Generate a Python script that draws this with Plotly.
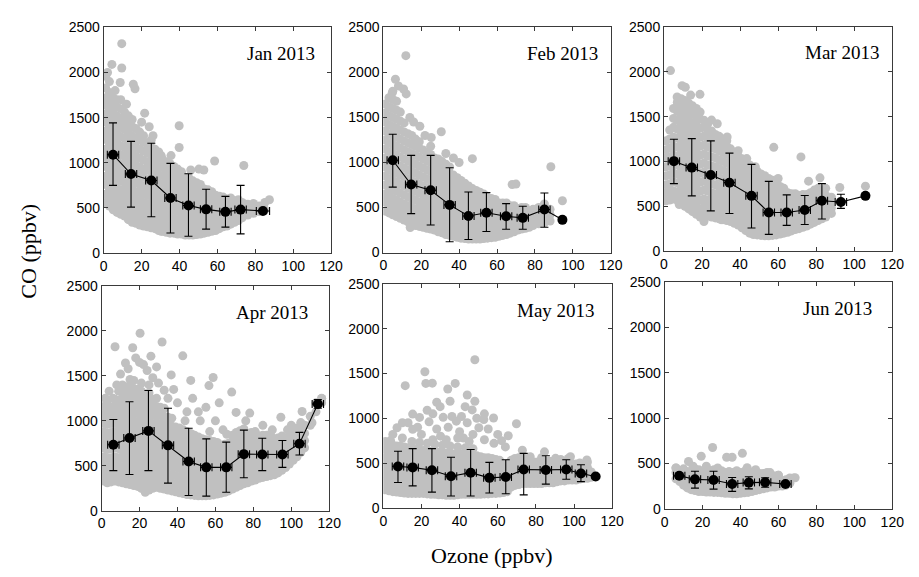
import plotly.graph_objects as go

# ---------------- data ----------------
titles = ["Jan 2013", "Feb 2013", "Mar 2013", "Apr 2013", "May 2013", "Jun 2013"]
x_ticks = [0, 20, 40, 60, 80, 100, 120]
y_ticks = [0, 500, 1000, 1500, 2000, 2500]

# gray scatter: (ozone, [CO values...]) columns + isolated points
jan_cols = [
    (1, [560, 650, 760, 850, 960, 1060, 1150, 1260, 1350, 1450, 1540, 1640, 1720, 1830, 1960]),
    (3, [520, 610, 700, 810, 900, 1010, 1100, 1200, 1310, 1400, 1500, 1590, 1680, 1780, 1900]),
    (5, [480, 570, 660, 760, 850, 950, 1050, 1150, 1250, 1350, 1450, 1550, 1650, 1720]),
    (7, [450, 540, 630, 720, 820, 920, 1020, 1120, 1220, 1320, 1420, 1520, 1620, 1700]),
    (9, [430, 520, 610, 700, 800, 890, 990, 1090, 1190, 1290, 1390, 1490, 1600, 1700]),
    (11, [410, 500, 590, 680, 780, 870, 970, 1070, 1170, 1270, 1370, 1460, 1560]),
    (13, [370, 460, 560, 650, 740, 840, 940, 1040, 1140, 1240, 1340, 1440, 1520]),
    (15, [340, 430, 520, 620, 710, 810, 910, 1010, 1100, 1200, 1300, 1400, 1480]),
    (17, [330, 410, 500, 590, 680, 780, 870, 970, 1070, 1170, 1270, 1380]),
    (19, [310, 400, 490, 580, 670, 760, 850, 950, 1050, 1150, 1250, 1340]),
    (21, [300, 390, 480, 560, 650, 740, 840, 930, 1030, 1130, 1230, 1300]),
    (23, [290, 370, 460, 550, 640, 730, 820, 920, 1010, 1110, 1200]),
    (25, [280, 360, 450, 540, 630, 720, 810, 900, 990, 1080, 1170, 1250]),
    (27, [270, 350, 440, 520, 610, 700, 790, 880, 970, 1060, 1150]),
    (29, [250, 340, 420, 510, 600, 690, 780, 870, 960, 1050, 1120]),
    (31, [240, 320, 410, 500, 590, 680, 770, 860, 950, 1040]),
    (33, [230, 310, 400, 490, 580, 670, 760, 850, 940, 1010]),
    (35, [220, 300, 390, 480, 570, 660, 740, 830, 920, 990]),
    (37, [220, 300, 380, 470, 560, 640, 730, 820, 900, 960]),
    (39, [210, 290, 370, 460, 540, 630, 720, 800, 880, 930]),
    (41, [210, 290, 370, 450, 530, 620, 700, 780, 860, 900]),
    (43, [200, 280, 360, 440, 520, 600, 680, 760, 840]),
    (45, [200, 280, 360, 440, 520, 600, 680, 760, 830]),
    (47, [200, 280, 350, 430, 510, 590, 670, 750, 800]),
    (49, [205, 280, 350, 430, 510, 580, 660, 740, 780]),
    (51, [210, 290, 360, 430, 500, 580, 650, 720, 760]),
    (53, [220, 290, 360, 430, 500, 570, 640, 710]),
    (55, [230, 300, 370, 440, 510, 570, 640, 700]),
    (57, [240, 310, 380, 440, 510, 570, 640, 680]),
    (59, [250, 320, 390, 450, 510, 580, 640]),
    (61, [270, 340, 400, 460, 520, 580, 630]),
    (63, [290, 350, 410, 470, 530, 590, 620]),
    (65, [300, 360, 420, 480, 540, 600]),
    (67, [320, 380, 440, 500, 560, 610]),
    (69, [340, 400, 460, 520, 580]),
    (71, [360, 420, 480, 540, 590]),
    (73, [390, 450, 510, 560]),
    (76, [420, 480, 540]),
    (79, [440, 500, 550]),
    (82, [460, 520]),
    (85, [480, 560]),
]
jan_extra = [(9.5, 2320), (4.3, 2090), (9.5, 2050), (2, 2000), (8.7, 1890), (15.6, 1870),
             (16.5, 1820), (21.6, 1550), (20, 1450), (24, 1400), (39.8, 1410), (39.8, 1170),
             (30.3, 1080), (35.5, 1080), (45.9, 920), (50.2, 930), (52.8, 920), (58.5, 1020),
             (73.9, 970), (87.4, 590), (30.3, 240), (26, 1300), (12, 1650), (6, 1800)]

feb_cols = [
    (1, [460, 560, 650, 750, 850, 950, 1050, 1150, 1250, 1350, 1450, 1550, 1650]),
    (3, [440, 530, 630, 720, 820, 920, 1020, 1120, 1220, 1320, 1420, 1520, 1620, 1720]),
    (5, [420, 510, 600, 700, 800, 900, 1000, 1100, 1200, 1300, 1400, 1500, 1600, 1700, 1790]),
    (7, [400, 490, 580, 680, 780, 880, 980, 1080, 1180, 1280, 1380, 1480, 1580, 1680]),
    (9, [380, 470, 560, 660, 760, 860, 960, 1060, 1160, 1260, 1360, 1460, 1560]),
    (11, [360, 450, 540, 640, 740, 840, 940, 1040, 1140, 1240, 1340, 1440]),
    (13, [340, 430, 520, 620, 720, 820, 920, 1020, 1120, 1220, 1320]),
    (15, [320, 410, 500, 600, 700, 800, 900, 1000, 1100, 1200, 1300]),
    (17, [300, 390, 480, 580, 680, 780, 880, 980, 1080, 1180, 1260]),
    (19, [290, 380, 470, 560, 660, 760, 860, 960, 1060, 1160, 1230]),
    (21, [280, 370, 460, 550, 640, 740, 840, 940, 1040, 1140]),
    (23, [270, 360, 450, 540, 630, 720, 820, 920, 1020, 1110]),
    (25, [260, 350, 440, 530, 620, 710, 800, 900, 1000, 1090, 1180]),
    (27, [250, 330, 420, 510, 600, 690, 780, 870, 960, 1050]),
    (29, [230, 320, 410, 500, 590, 680, 770, 860, 950, 1040]),
    (31, [220, 300, 390, 480, 570, 660, 750, 840, 930, 1010]),
    (33, [200, 290, 370, 460, 550, 640, 730, 820, 910, 980]),
    (35, [190, 270, 360, 450, 540, 620, 710, 800, 880, 950]),
    (37, [180, 260, 340, 430, 520, 600, 690, 780, 860]),
    (39, [170, 250, 330, 420, 500, 580, 670, 750, 830]),
    (41, [160, 240, 320, 400, 480, 560, 640, 720, 800]),
    (43, [155, 230, 310, 390, 470, 550, 630, 700, 770]),
    (45, [150, 225, 300, 380, 460, 540, 610, 680, 740]),
    (47, [150, 220, 300, 370, 450, 520, 600, 660, 710]),
    (49, [150, 220, 290, 370, 440, 510, 580, 640, 690]),
    (51, [150, 220, 290, 360, 430, 500, 570, 630, 670]),
    (53, [155, 225, 290, 360, 430, 500, 560, 620, 650]),
    (55, [160, 230, 300, 360, 430, 490, 550, 610]),
    (57, [165, 235, 300, 370, 430, 490, 550, 600]),
    (59, [170, 240, 310, 370, 430, 490, 550, 590]),
    (61, [180, 250, 310, 370, 430, 490, 550]),
    (63, [190, 260, 320, 380, 440, 500, 550]),
    (65, [200, 270, 330, 390, 450, 510, 550]),
    (67, [215, 280, 340, 400, 460, 520]),
    (69, [230, 290, 350, 410, 470, 520]),
    (71, [250, 310, 370, 430, 490]),
    (73, [260, 320, 380, 440, 500]),
    (75, [270, 330, 390, 450, 500]),
    (77, [280, 340, 400, 460]),
    (79, [300, 360, 420, 480]),
    (82, [320, 380, 440, 500]),
    (85, [330, 400, 470, 540]),
    (88, [350, 420, 480]),
]
feb_extra = [(11.9, 2187), (6.4, 1924), (10.7, 1816), (12.1, 1762), (4.7, 1773), (8, 1850),
             (19.3, 1403), (30.6, 1342), (25.3, 1277), (22, 1300), (47, 1043), (40, 1000),
             (88.4, 953), (68, 755), (70, 760), (94.5, 575), (14.2, 277), (37, 1050),
             (33, 1100), (16, 1450), (14, 1500)]

mar_cols = [
    (1, [560, 650, 740, 840, 940, 1040, 1130, 1230]),
    (3, [570, 660, 750, 850, 950, 1050, 1150, 1250, 1350]),
    (5, [580, 670, 770, 870, 970, 1070, 1170, 1270, 1380, 1480, 1590]),
    (7, [570, 660, 760, 860, 960, 1060, 1160, 1260, 1360, 1460, 1560, 1660]),
    (9, [540, 630, 730, 830, 930, 1030, 1130, 1230, 1330, 1430, 1530, 1630, 1700]),
    (11, [500, 590, 690, 790, 890, 990, 1090, 1190, 1290, 1390, 1490, 1590, 1680]),
    (13, [470, 560, 660, 760, 860, 960, 1060, 1160, 1260, 1360, 1460, 1560, 1650]),
    (15, [440, 530, 630, 730, 830, 930, 1030, 1130, 1230, 1330, 1430, 1530, 1620]),
    (17, [410, 500, 600, 700, 800, 900, 1000, 1100, 1200, 1300, 1400, 1500, 1590]),
    (19, [380, 470, 570, 670, 770, 870, 970, 1070, 1170, 1270, 1370, 1470, 1550]),
    (21, [400, 490, 580, 680, 780, 880, 980, 1080, 1180, 1280, 1380, 1460]),
    (23, [390, 480, 570, 670, 760, 860, 960, 1060, 1160, 1260, 1350, 1420]),
    (25, [380, 470, 560, 650, 750, 850, 950, 1050, 1150, 1250, 1340]),
    (27, [370, 460, 550, 640, 740, 840, 940, 1040, 1140, 1230, 1300]),
    (29, [360, 450, 540, 630, 720, 820, 920, 1020, 1120, 1210, 1280]),
    (31, [350, 440, 530, 620, 710, 800, 900, 1000, 1100, 1190, 1250]),
    (33, [340, 430, 520, 610, 700, 790, 880, 980, 1080, 1170, 1230]),
    (35, [330, 420, 510, 600, 690, 780, 870, 960, 1050, 1140]),
    (37, [310, 400, 490, 580, 670, 760, 850, 940, 1030, 1100]),
    (39, [290, 380, 470, 560, 650, 740, 830, 920, 1010, 1060]),
    (41, [260, 350, 440, 530, 620, 710, 800, 890, 980, 1030]),
    (43, [230, 320, 410, 500, 590, 680, 770, 860, 950, 1000]),
    (45, [200, 290, 380, 470, 560, 650, 740, 830, 910, 960]),
    (47, [185, 270, 360, 450, 540, 630, 720, 800, 880, 920]),
    (49, [180, 260, 340, 430, 520, 600, 690, 770, 850, 890]),
    (51, [175, 250, 330, 410, 500, 580, 660, 740, 820, 860]),
    (53, [170, 245, 320, 400, 480, 560, 640, 720, 800, 840]),
    (55, [170, 240, 320, 390, 470, 550, 630, 700, 780, 810]),
    (57, [175, 245, 320, 390, 460, 540, 610, 690, 760, 790]),
    (59, [180, 250, 320, 390, 460, 530, 600, 670, 740, 770]),
    (61, [190, 260, 330, 400, 470, 540, 600, 660, 720]),
    (63, [200, 270, 340, 410, 470, 540, 600, 660, 700]),
    (65, [210, 280, 350, 410, 480, 540, 600, 650]),
    (67, [225, 290, 360, 420, 480, 540, 600, 640]),
    (69, [240, 300, 370, 430, 490, 550, 610, 640]),
    (71, [250, 320, 380, 440, 500, 560, 620]),
    (73, [265, 330, 390, 450, 510, 570, 630]),
    (75, [280, 340, 400, 460, 520, 580, 630]),
    (77, [300, 360, 420, 480, 540, 600, 650]),
    (79, [320, 380, 440, 500, 560, 620, 680]),
    (81, [340, 400, 460, 520, 580, 640, 700]),
    (83, [360, 420, 480, 540, 600, 660]),
    (85, [380, 440, 500, 560, 620]),
    (88, [420, 480, 540, 600]),
]
mar_extra = [(3.4, 2013), (9.5, 1845), (11.2, 1827), (18.9, 1748), (6.9, 1719), (14, 1740),
             (25, 1461), (28, 1420), (33.2, 1272), (43.5, 1032), (57.7, 1157), (72, 1050),
             (82, 817), (92.4, 709), (105.9, 724), (48, 940), (39, 1120), (8, 520), (11, 530),
             (21, 330), (30, 350), (35, 370), (60, 810), (76, 780), (85, 700)]

apr_cols = [
    (1, [330, 420, 510, 600, 700, 790, 880, 980, 1070, 1160]),
    (3, [310, 400, 490, 580, 680, 770, 860, 960, 1050, 1140, 1220]),
    (5, [320, 410, 500, 590, 690, 780, 870, 970, 1060, 1150]),
    (7, [330, 420, 510, 600, 700, 790, 880, 980, 1070, 1160, 1240]),
    (9, [320, 410, 500, 590, 690, 780, 870, 960, 1050, 1140, 1230, 1330]),
    (11, [310, 400, 490, 580, 670, 770, 860, 950, 1040, 1130, 1220, 1310, 1400]),
    (13, [300, 390, 480, 570, 660, 750, 850, 940, 1030, 1120, 1210, 1300, 1380]),
    (15, [290, 380, 470, 560, 650, 740, 830, 930, 1020, 1110, 1200, 1290, 1370, 1460]),
    (17, [280, 370, 460, 550, 640, 730, 820, 910, 1000, 1090, 1180, 1270, 1360, 1450]),
    (19, [270, 360, 450, 540, 630, 720, 810, 900, 990, 1080, 1170, 1260, 1350]),
    (21, [250, 340, 430, 520, 610, 700, 790, 880, 970, 1060, 1150, 1240, 1330, 1420]),
    (23, [220, 310, 400, 490, 580, 670, 760, 850, 940, 1030, 1120, 1210, 1300]),
    (25, [230, 320, 410, 500, 590, 680, 770, 860, 950, 1040, 1130, 1220, 1310, 1400]),
    (27, [250, 340, 430, 520, 610, 700, 790, 880, 970, 1060, 1150, 1240]),
    (29, [260, 350, 440, 530, 620, 710, 800, 890, 980, 1070, 1160, 1250]),
    (31, [250, 340, 430, 520, 610, 700, 790, 880, 970, 1060, 1150]),
    (33, [240, 330, 420, 510, 600, 690, 780, 870, 960, 1050, 1140]),
    (35, [230, 320, 410, 500, 590, 680, 770, 860, 950, 1040]),
    (37, [220, 310, 400, 490, 580, 670, 760, 850, 940, 1030]),
    (39, [210, 300, 390, 480, 570, 660, 750, 840, 930]),
    (41, [200, 290, 380, 470, 560, 650, 740, 830, 920]),
    (43, [190, 270, 360, 450, 540, 630, 720, 810, 900]),
    (45, [180, 260, 350, 440, 530, 620, 710, 800, 880]),
    (47, [175, 250, 340, 430, 520, 610, 700, 790, 860]),
    (49, [170, 250, 330, 420, 510, 600, 690, 770, 840]),
    (51, [165, 245, 330, 410, 500, 590, 680, 760, 820]),
    (53, [165, 240, 320, 400, 490, 580, 660, 740, 800]),
    (55, [165, 240, 320, 400, 480, 560, 640, 720, 790]),
    (57, [170, 245, 320, 400, 480, 560, 640, 710, 780]),
    (59, [175, 250, 330, 410, 490, 570, 650, 720, 770]),
    (61, [185, 260, 340, 420, 500, 580, 650, 720, 760]),
    (63, [195, 270, 350, 430, 510, 590, 660, 730]),
    (65, [205, 280, 360, 440, 520, 600, 670, 740]),
    (67, [220, 295, 370, 450, 530, 610, 680, 750]),
    (69, [240, 310, 390, 470, 550, 630, 700, 770, 840]),
    (71, [260, 330, 410, 490, 570, 650, 720, 800, 870]),
    (73, [280, 350, 430, 510, 590, 670, 740, 820, 890]),
    (75, [300, 370, 450, 530, 610, 690, 760, 840, 910]),
    (77, [310, 390, 470, 550, 630, 710, 780, 860]),
    (79, [330, 410, 490, 570, 650, 730, 800, 870]),
    (81, [340, 420, 500, 580, 660, 740, 810, 880]),
    (83, [360, 440, 520, 600, 680, 760, 830]),
    (85, [370, 450, 530, 610, 690, 770, 840]),
    (87, [380, 460, 540, 620, 700, 780, 840]),
    (89, [390, 470, 550, 630, 710, 790, 850]),
    (91, [400, 480, 560, 640, 720, 800]),
    (93, [420, 500, 580, 660, 740, 810]),
    (95, [450, 530, 610, 690, 770, 830]),
    (97, [480, 560, 640, 720, 800]),
    (99, [520, 600, 680, 760, 840]),
    (101, [560, 640, 720, 800, 880]),
    (103, [600, 680, 760, 840, 920]),
    (105, [650, 730, 810, 890, 980]),
    (107, [700, 780, 860, 950]),
    (110, [950, 1050]),
    (113, [1100, 1200]),
    (116, [1200, 1250]),
]
apr_extra = [(20.3, 1975), (31.9, 1878), (7.1, 1824), (16.4, 1813), (42.8, 1723), (12.6, 1644),
             (22.1, 1626), (36.7, 1511), (58.8, 1482), (68.6, 1320), (56.6, 1392), (70.9, 1094),
             (78.1, 1086), (94.5, 1040), (105.7, 1104), (110.9, 978), (116, 1248), (23, 205),
             (10, 1520), (14, 1580), (18, 1700), (24, 1560), (27, 1480), (30, 1420), (33, 1340),
             (26, 1720), (20, 1650), (8, 1400), (4, 1330), (40, 1200), (45, 1100), (48, 1250),
             (52, 1000), (55, 1150), (60, 1000), (64, 900), (62, 1200), (47, 1450), (38, 1350),
             (29, 1600), (35, 1250), (44, 1000), (51, 1100), (57, 880), (66, 850), (76, 1000),
             (85, 950), (90, 900), (98, 900), (100, 950), (2, 1250), (6, 1250)]

may_cols = [
    (1, [200, 290, 380, 470, 560, 650, 740]),
    (3, [190, 280, 370, 460, 550, 640, 720]),
    (5, [180, 270, 360, 450, 540, 630, 700]),
    (7, [175, 260, 350, 440, 530, 620, 690]),
    (9, [170, 255, 340, 430, 520, 610, 690]),
    (11, [165, 250, 335, 420, 510, 600, 680]),
    (13, [160, 245, 330, 415, 500, 590, 670]),
    (15, [160, 240, 325, 410, 495, 580, 660, 740]),
    (17, [160, 240, 320, 405, 490, 575, 660]),
    (19, [160, 240, 320, 400, 485, 570, 650, 730]),
    (21, [160, 240, 320, 400, 480, 560, 640]),
    (23, [155, 235, 315, 395, 475, 555, 640, 720]),
    (25, [150, 230, 310, 390, 470, 550, 630]),
    (27, [150, 230, 310, 390, 470, 550, 630, 710]),
    (29, [145, 225, 305, 385, 465, 545, 620]),
    (31, [145, 225, 305, 385, 465, 545, 620, 700]),
    (33, [140, 220, 300, 380, 460, 540, 610]),
    (35, [140, 220, 300, 380, 460, 540, 610, 690]),
    (37, [140, 220, 300, 380, 460, 530, 600]),
    (39, [145, 225, 300, 380, 455, 530, 600, 680]),
    (41, [150, 225, 300, 375, 450, 525, 600]),
    (43, [150, 225, 300, 375, 450, 525, 600, 670]),
    (45, [150, 225, 300, 375, 450, 520, 590]),
    (47, [150, 225, 300, 370, 445, 520, 590, 660]),
    (49, [150, 225, 300, 370, 440, 510, 580]),
    (51, [150, 225, 295, 365, 435, 505, 570]),
    (53, [155, 225, 295, 365, 435, 500, 560]),
    (55, [155, 225, 295, 360, 430, 495, 560]),
    (57, [160, 230, 295, 360, 425, 490, 550]),
    (59, [160, 230, 295, 360, 425, 490, 540]),
    (61, [165, 230, 295, 360, 425, 485, 530]),
    (63, [170, 235, 300, 360, 420, 480]),
    (65, [180, 245, 310, 370, 430, 490]),
    (67, [230, 290, 350, 410, 470, 530]),
    (69, [250, 310, 370, 430, 490, 550]),
    (71, [260, 320, 380, 440, 500, 560]),
    (73, [270, 330, 390, 450, 510, 570]),
    (75, [270, 330, 390, 450, 510]),
    (77, [270, 330, 390, 450, 510, 570]),
    (79, [270, 330, 390, 450, 510]),
    (81, [270, 330, 390, 450, 510]),
    (83, [270, 330, 390, 450, 510, 560]),
    (85, [280, 340, 400, 460, 520]),
    (87, [280, 340, 400, 460, 520]),
    (89, [280, 340, 400, 460, 520]),
    (91, [290, 350, 410, 470, 530]),
    (93, [300, 360, 420, 480, 540]),
    (95, [300, 360, 420, 480]),
    (97, [310, 370, 430, 490, 550]),
    (99, [310, 370, 430, 490]),
    (101, [310, 370, 430, 490]),
    (103, [320, 380, 440, 500]),
    (105, [330, 390, 450]),
    (107, [330, 390, 450, 510]),
    (109, [340, 400]),
]
may_extra = [(48, 1654), (21.8, 1520), (11.5, 1365), (22.3, 1390), (25.7, 1393), (33.8, 1328),
             (37.7, 1390), (29.8, 1130), (42.9, 1130), (46.6, 1094), (38.3, 968), (31.4, 1011),
             (52.7, 986), (57.8, 1004), (50.1, 895), (69.8, 939), (65.5, 805), (15.4, 1047),
             (7.2, 895), (15.4, 877), (3.8, 751), (72.9, 643), (84.5, 625), (90.3, 552),
             (98.1, 570), (106.7, 534), (5, 820), (10, 780), (13, 950), (18, 900), (20, 820),
             (24, 960), (26, 1050), (28, 880), (30, 800), (34, 900), (36, 1020), (40, 850),
             (42, 780), (44, 950), (47, 820), (49, 1000), (53, 760), (55, 880), (58, 720),
             (60, 820), (62, 750), (64, 680), (10, 950), (26, 760), (33, 760), (39, 780),
             (45, 740), (19, 1010), (23, 1090), (28, 1180), (35, 1190), (41, 1020), (44, 1260),
             (48, 1190), (53, 1050)]

jun_cols = [
    (6, [330, 400, 450]), (8, [300, 360, 420]), (10, [260, 320, 380, 440]),
    (12, [230, 290, 350, 410]), (14, [210, 270, 330, 390]), (16, [200, 260, 320, 380, 440]),
    (18, [190, 250, 310, 370, 430]), (20, [190, 250, 310, 370]), (22, [185, 245, 305, 365, 425]),
    (24, [185, 245, 305, 365, 420]), (26, [180, 240, 300, 360, 430]), (28, [180, 240, 300, 360, 410]),
    (30, [175, 235, 295, 355, 420]), (32, [170, 230, 290, 350, 400]), (34, [170, 230, 290, 350, 410]),
    (36, [165, 225, 285, 345, 400]), (38, [165, 225, 285, 345, 420]), (40, [170, 230, 290, 350, 400]),
    (42, [175, 235, 295, 355, 410]), (44, [180, 240, 300, 360, 420]), (46, [190, 250, 310, 370, 400]),
    (48, [200, 260, 320, 380]), (50, [210, 270, 330, 390]), (52, [220, 280, 340, 390]),
    (54, [230, 290, 350, 400]), (56, [240, 300, 360]), (58, [240, 300, 360]), (60, [250, 310, 370]),
    (62, [250, 310]), (64, [260, 320]), (66, [280, 340]), (68, [340]),
]
jun_extra = [(25.3, 676), (19.3, 579), (35.6, 568), (32.7, 568), (41, 611), (12.6, 521), (6, 450),
             (43.5, 453), (55.6, 399), (68.8, 342), (31, 399), (28, 450), (22, 470), (15, 470),
             (48, 430), (60, 370)]

# binned means (black): ozone, CO mean, CO upper / lower end of bar, ozone half-width
jan_mo3 = [4.9, 14.4, 25.1, 35.2, 44.7, 54.0, 64.2, 72.2, 84.0]
jan_mco = [1090, 875, 803, 610, 527, 484, 456, 481, 466]
jan_hi = [1442, 1237, 1216, 994, 879, 707, 628, 750, 466]
jan_lo = [750, 509, 402, 222, 186, 265, 287, 212, 466]
jan_xe = [3, 3, 3, 3, 3, 3, 3, 3, 3.5]

feb_mo3 = [5, 14.7, 25, 35, 44.9, 54.4, 64.8, 73.6, 85, 94.5]
feb_mco = [1025, 755, 691, 529, 406, 442, 403, 385, 478, 363]
feb_hi = [1313, 1079, 1079, 942, 673, 665, 543, 514, 662, 363]
feb_lo = [727, 432, 306, 119, 144, 234, 259, 259, 281, 363]
feb_xe = [3, 3, 3, 3, 3, 3, 3, 3, 3, 0]

mar_mo3 = [5.2, 14.6, 24.6, 34.4, 46, 55.1, 64.5, 74, 83, 93, 105.9]
mar_mco = [1003, 931, 849, 763, 616, 430, 430, 458, 562, 548, 616]
mar_hi = [1247, 1254, 1229, 1093, 967, 777, 627, 620, 752, 634, 616]
mar_lo = [752, 616, 448, 419, 258, 186, 287, 297, 358, 476, 616]
mar_xe = [3, 3, 3, 3, 3, 3, 3, 3, 3, 3, 0]

apr_mo3 = [6.2, 14.7, 24.7, 35, 45.9, 55.2, 65.7, 75, 84.7, 95.3, 104.3, 114]
apr_mco = [734, 809, 888, 727, 547, 482, 482, 629, 626, 626, 745, 1187]
apr_hi = [1014, 1212, 1338, 1140, 917, 799, 763, 896, 806, 781, 871, 1237]
apr_lo = [446, 403, 446, 306, 169, 162, 205, 367, 446, 482, 619, 1140]
apr_xe = [3, 3, 3, 3, 3, 3, 3, 3, 3, 3, 3, 3]

may_mo3 = [7.7, 15.4, 25.5, 35.5, 45.8, 55.6, 64.2, 73.6, 85.2, 95.9, 103.6, 111.3]
may_mco = [462, 451, 419, 352, 392, 334, 344, 427, 423, 427, 383, 350]
may_hi = [632, 661, 661, 565, 651, 507, 536, 608, 582, 536, 480, 350]
may_lo = [282, 245, 175, 132, 132, 164, 157, 144, 264, 318, 292, 350]
may_xe = [3, 3, 3, 3, 3, 3, 3, 3, 3, 3, 3, 0]

jun_mo3 = [7.7, 16, 25.8, 35.6, 44.4, 53, 63.7]
jun_mco = [363, 324, 317, 273, 288, 291, 273]
jun_hi = [390, 414, 414, 345, 352, 342, 290]
jun_lo = [335, 227, 216, 191, 219, 237, 256]
jun_xe = [3, 3, 3, 3, 3, 3, 3]

# ---------------- figure ----------------
panels = [
    (jan_cols, jan_extra, jan_mo3, jan_mco, jan_hi, jan_lo, jan_xe),
    (feb_cols, feb_extra, feb_mo3, feb_mco, feb_hi, feb_lo, feb_xe),
    (mar_cols, mar_extra, mar_mo3, mar_mco, mar_hi, mar_lo, mar_xe),
    (apr_cols, apr_extra, apr_mo3, apr_mco, apr_hi, apr_lo, apr_xe),
    (may_cols, may_extra, may_mo3, may_mco, may_hi, may_lo, may_xe),
    (jun_cols, jun_extra, jun_mo3, jun_mco, jun_hi, jun_lo, jun_xe),
]

W, H = 919, 577
# panel frames in pixels: (left, right, top, bottom)
frames = [
    (101.5, 333.0, 20.0, 252.0),
    (386.0, 617.5, 20.0, 251.5),
    (671.7, 904.0, 19.5, 250.0),
    (99.3, 331.0, 286.0, 517.0),
    (386.0, 619.0, 284.0, 514.0),
    (672.3, 904.0, 282.0, 515.0),
]
title_shift = [14, 11, 11, 19, 15, 18]

GRAY = "#c0c0c0"
AX = "#3a3a3a"
fig = go.Figure()
layout = dict(
    width=W, height=H, margin=dict(l=0, r=0, t=0, b=0),
    paper_bgcolor="white", plot_bgcolor="white", showlegend=False,
    annotations=[],
)

for i, (cols, extra, mo3, mco, hi, lo, xe) in enumerate(panels):
    k = "" if i == 0 else str(i + 1)
    xs, ys = [], []
    for x, yl in cols:
        for y in yl:
            xs.append(x)
            ys.append(y)
    for x, y in extra:
        xs.append(x)
        ys.append(y)
    fig.add_trace(go.Scatter(
        x=xs, y=ys, mode="markers", xaxis="x" + k, yaxis="y" + k,
        marker=dict(size=9, color=GRAY, line=dict(width=0)), hoverinfo="skip"))
    plus = [h - m for h, m in zip(hi, mco)]
    minus = [m - l for m, l in zip(mco, lo)]
    fig.add_trace(go.Scatter(
        x=mo3, y=mco, mode="lines+markers", xaxis="x" + k, yaxis="y" + k,
        line=dict(color="black", width=1.1),
        marker=dict(size=10, color="black"),
        error_y=dict(type="data", array=plus, arrayminus=minus, symmetric=False,
                     color="black", thickness=1.1, width=4),
        error_x=dict(type="data", array=xe, color="black", thickness=1.1, width=4)))

    l, r, t, b = frames[i]
    axx = dict(domain=[l / W, r / W], range=[0, 120], tickvals=x_ticks,
               ticks="inside", ticklen=4, tickcolor=AX, showline=True, linecolor=AX,
               linewidth=1, mirror="ticks", showgrid=False, zeroline=False,
               tickfont=dict(family="Liberation Sans, Arial", size=14, color="black"),
               anchor="y" + k)
    axy = dict(domain=[1 - b / H, 1 - t / H], range=[0, 2500], tickvals=y_ticks,
               ticks="inside", ticklen=4, tickcolor=AX, showline=True, linecolor=AX,
               linewidth=1, mirror="ticks", showgrid=False, zeroline=False,
               tickfont=dict(family="Liberation Sans, Arial", size=14, color="black"),
               anchor="x" + k)
    layout["xaxis" + k] = axx
    layout["yaxis" + k] = axy
    layout["annotations"].append(dict(
        text=titles[i], xref="x" + k + " domain", yref="y" + k + " domain",
        x=1, y=1, xanchor="right", yanchor="middle", xshift=-title_shift[i], yshift=-26,
        showarrow=False, font=dict(family="Liberation Serif, Times New Roman", size=19, color="black")))

layout["annotations"].append(dict(
    text="CO (ppbv)", xref="paper", yref="paper", x=25 / W, y=1 - 250 / H,
    textangle=-90, showarrow=False, xanchor="center", yanchor="middle",
    font=dict(family="Liberation Serif, Times New Roman", size=22, color="black")))
layout["annotations"].append(dict(
    text="Ozone (ppbv)", xref="paper", yref="paper", x=497 / W, y=1 - 563 / H,
    showarrow=False, xanchor="center", yanchor="middle",
    font=dict(family="Liberation Serif, Times New Roman", size=22, color="black")))

fig.update_layout(**layout)
fig.write_html("out.html")
